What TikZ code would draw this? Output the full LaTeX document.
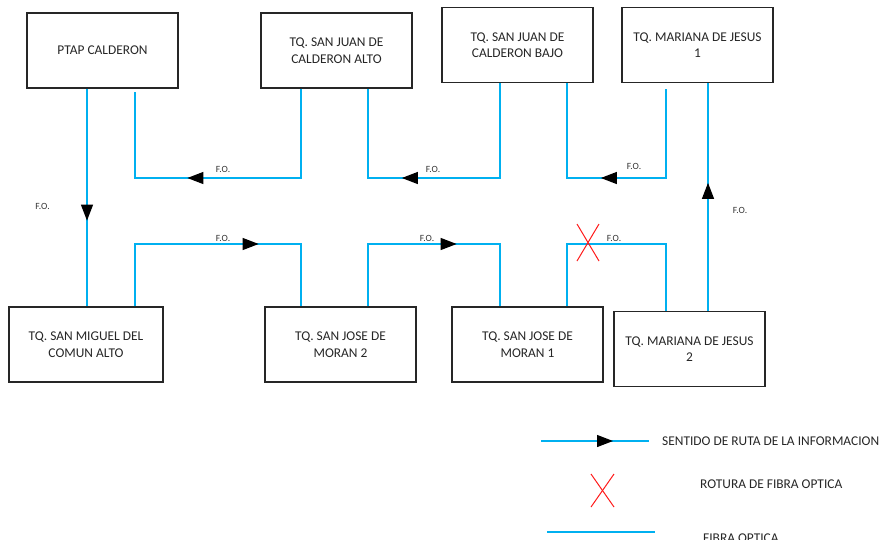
\documentclass[tikz,border=0pt]{standalone}
\usepackage{fontspec}
\setmainfont{Carlito}
\usetikzlibrary{arrows.meta,decorations.markings}
\definecolor{fibre}{HTML}{00B0F0}
\definecolor{breakred}{HTML}{FF1A1A}
\begin{document}
\begin{tikzpicture}[x=1pt,y=-1pt,
  box/.style={draw=black!85, line width=1.3pt, minimum width=151pt, minimum height=75pt,
    align=center, font=\fontsize{13.4}{16.5}\selectfont, text=black!85, inner sep=0pt},
  fo/.style={draw=fibre, line width=1.2pt},
  arrowat/.style={postaction={decorate, decoration={markings,
    mark=at position #1 with {\arrow{Triangle[length=16pt,width=12pt,color=black]}}}}},
  lab/.style={font=\fontsize{9.5}{11}\selectfont, text=black!80, inner sep=0pt},
  leg/.style={font=\fontsize{13.4}{16}\selectfont, text=black!85, anchor=west, inner sep=0pt},
  brk/.style={draw=breakred, line width=1pt}]
\useasboundingbox (0,0) rectangle (883,539);

% boxes
\node[box] (ptap)   at (102.5,50.5) {PTAP CALDERON};
\node[box] (sjca)   at (336.5,50.5) {TQ. SAN JUAN DE\\CALDERON ALTO};
\node[box] (sjcb)   at (517.5,45)   {TQ. SAN JUAN DE\\CALDERON BAJO};
\node[box] (mj1)    at (697.5,45)   {TQ. MARIANA DE JESUS\\1};
\node[box, minimum width=154pt] (miguel) at (86,344.5) {TQ. SAN MIGUEL DEL\\COMUN ALTO};
\node[box] (sjm2)   at (340.5,344.5) {TQ. SAN JOSE DE\\MORAN 2};
\node[box] (sjm1)   at (527.5,344.5) {TQ. SAN JOSE DE\\MORAN 1};
\node[box] (mj2)    at (689.5,349)   {TQ. MARIANA DE JESUS\\2};

% levels
\coordinate (up) at (0,178);
\coordinate (lo) at (0,244);

% ports
\coordinate (ptapL)   at ([xshift=-15.5pt]ptap.south);
\coordinate (ptapR)   at ([xshift=32.5pt,yshift=-3pt]ptap.south);
\coordinate (sjcaL)   at ([xshift=-35.5pt]sjca.south);
\coordinate (sjcaR)   at ([xshift=31.5pt]sjca.south);
\coordinate (sjcbL)   at ([xshift=-17.5pt]sjcb.south);
\coordinate (sjcbR)   at ([xshift=49.5pt]sjcb.south);
\coordinate (mj1L)    at ([xshift=-31.5pt,yshift=-6pt]mj1.south);
\coordinate (mj2R)    at ([xshift=18.5pt]mj2.north);
\coordinate (miguelR) at ([xshift=49pt]miguel.north);
\coordinate (sjm2L)   at ([xshift=-39.5pt]sjm2.north);
\coordinate (sjm2R)   at ([xshift=27.5pt]sjm2.north);
\coordinate (sjm1L)   at ([xshift=-27.5pt]sjm1.north);
\coordinate (sjm1R)   at ([xshift=39.5pt]sjm1.north);
\coordinate (mj2L)    at ([xshift=-23.5pt]mj2.north);

% connectors
\draw[fo,arrowat=132pt] (ptapL) -- (ptapL |- miguel.north);
\draw[fo,arrowat=203pt] (sjcaL) -- (sjcaL |- up) -- (ptapR |- up) -- (ptapR);
\draw[fo,arrowat=193pt] (sjcbL) -- (sjcbL |- up) -- (sjcaR |- up) -- (sjcaR);
\draw[fo,arrowat=154pt] (mj1L) -- (mj1L |- up) -- (sjcbR |- up) -- (sjcbR);
\draw[fo,arrowat=128pt] (mj2R) -- (mj2R |- mj1.south);
\draw[fo,arrowat=186pt] (miguelR) -- (miguelR |- lo) -- (sjm2L |- lo) -- (sjm2L);
\draw[fo,arrowat=151pt] (sjm2R) -- (sjm2R |- lo) -- (sjm1L |- lo) -- (sjm1L);
\draw[fo] (sjm1R) -- (sjm1R |- lo) -- (mj2L |- lo) -- (mj2L);

% break mark
\coordinate (cut) at (588,244);
\draw[brk] ([shift={(-11,-20)}]cut) -- ([shift={(11,17)}]cut);
\draw[brk] ([shift={(11,-20)}]cut) -- ([shift={(-11,17)}]cut);

% F.O. labels
\node[lab] (fo1) at (42.5,206) {F.O.};
\node[lab] (fo2) at (223,169) {F.O.};
\node[lab] (fo3) at (433,169) {F.O.};
\node[lab] (fo4) at (634,166) {F.O.};
\node[lab] (fo5) at (740,210) {F.O.};
\node[lab] (fo6) at (223,238) {F.O.};
\node[lab] (fo7) at (427,238) {F.O.};
\node[lab] (fo8) at (614,238) {F.O.};

% legend
\coordinate (legA) at (541,441);
\coordinate (legB) at (649,441);
\draw[fo,arrowat=72pt] (legA) -- (legB);
\node[leg] (legt1) at (662,441) {SENTIDO DE RUTA DE LA INFORMACION};
\coordinate (legX) at (602,490);
\draw[brk] ([shift={(-11,-16)}]legX) -- ([shift={(12,17)}]legX);
\draw[brk] ([shift={(12,-16)}]legX) -- ([shift={(-11,17)}]legX);
\node[leg] (legt2) at (700,484) {ROTURA DE FIBRA OPTICA};
\coordinate (legC) at (547,532);
\coordinate (legD) at (655,532);
\draw[fo] (legC) -- (legD);
\node[leg] (legt3) at (703,538) {FIBRA OPTICA};
\end{tikzpicture}
\end{document}
